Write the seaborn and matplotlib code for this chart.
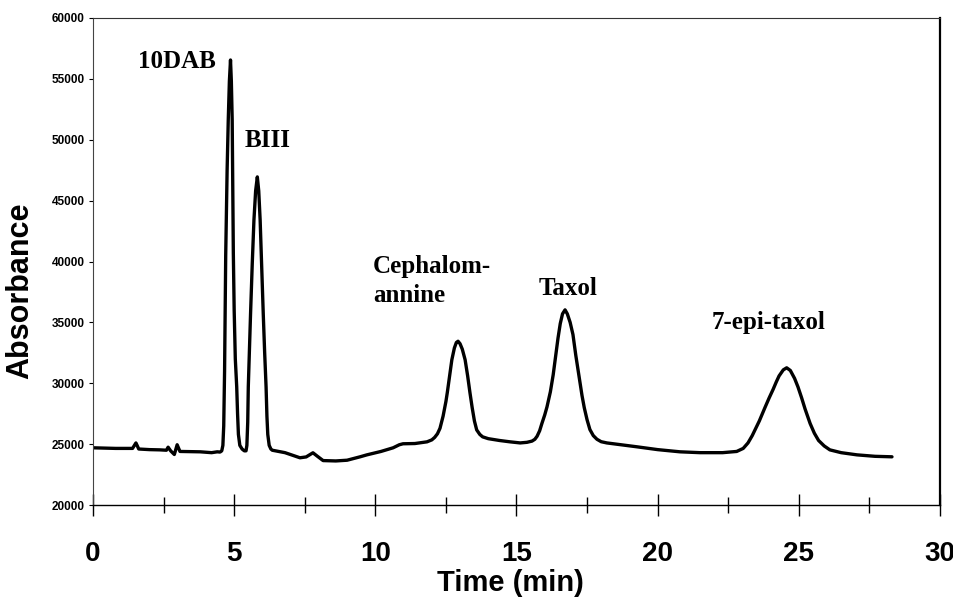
import matplotlib
matplotlib.use("Agg")
import matplotlib.pyplot as plt
import seaborn as sns
import pandas as pd
from matplotlib.ticker import MultipleLocator

# ---- data ----
time_min = [
    0.0, 0.8, 1.4, 1.52, 1.62, 2.0, 2.37, 2.6, 2.66, 2.75, 2.88, 2.98, 3.08,
    3.5, 3.8, 4.2, 4.4, 4.5, 4.56, 4.60, 4.63, 4.66, 4.70, 4.75, 4.79, 4.83,
    4.87, 4.90, 4.93, 4.95, 4.97, 5.00, 5.04, 5.09, 5.12, 5.15, 5.20, 5.28,
    5.36, 5.42, 5.45, 5.48, 5.50, 5.54, 5.58, 5.64, 5.70, 5.76, 5.82, 5.87,
    5.92, 5.97, 6.03, 6.08, 6.13, 6.16, 6.19, 6.24, 6.30, 6.35, 6.8, 7.33,
    7.55, 7.79, 7.95, 8.15, 8.6, 9.0, 9.46, 9.7, 10.2, 10.63, 10.85, 10.98,
    11.4, 11.83, 12.0, 12.1, 12.2, 12.29, 12.4, 12.5, 12.55, 12.63, 12.71,
    12.8, 12.87, 12.93, 13.0, 13.08, 13.18, 13.27, 13.35, 13.43, 13.51, 13.59,
    13.7, 13.8, 14.0, 14.4, 14.77, 15.13, 15.37, 15.55, 15.65, 15.73, 15.82,
    15.9, 16.0, 16.08, 16.2, 16.3, 16.4, 16.47, 16.55, 16.63, 16.72, 16.8,
    16.9, 17.0, 17.1, 17.22, 17.32, 17.4, 17.5, 17.6, 17.72, 17.85, 18.0,
    18.2, 18.7, 19.27, 20.0, 20.79, 21.5, 22.3, 22.8, 23.03, 23.2, 23.35,
    23.45, 23.6, 23.8, 23.95, 24.09, 24.2, 24.3, 24.45, 24.57, 24.7, 24.85,
    24.97, 25.1, 25.22, 25.4, 25.55, 25.7, 25.9, 26.1, 26.5, 27.06, 27.7,
    28.3,
]
absorbance = [
    24700, 24650, 24650, 25100, 24600, 24550, 24530, 24500, 24750, 24450,
    24150, 24950, 24400, 24380, 24370, 24300, 24370, 24350, 24450, 24900,
    26500, 31000, 40500, 47500, 51600, 54800, 56550, 54800, 51600, 46000,
    40700, 36000, 32000, 29700, 27500, 25800, 24900, 24600, 24450, 24450,
    24900, 26800, 29700, 32800, 35700, 39800, 43400, 45800, 46950, 45800,
    43400, 39800, 35700, 32500, 29700, 27300, 25800, 24900, 24600, 24500,
    24300, 23880, 23950, 24290, 24000, 23650, 23620, 23680, 23960, 24120,
    24400, 24700, 24950, 25030, 25050, 25190, 25350, 25550, 25850, 26300,
    27300, 28500, 29250, 30600, 31930, 32900, 33350, 33450, 33250, 32800,
    31930, 30600, 29250, 28000, 26900, 26170, 25800, 25600, 25450, 25300,
    25190, 25100, 25150, 25250, 25400, 25650, 26100, 26700, 27400, 28060,
    29300, 30700, 32500, 33700, 34900, 35700, 36030, 35700, 35000, 34000,
    32300, 30500, 29000, 28000, 27000, 26200, 25700, 25400, 25200, 25100,
    24950, 24780, 24550, 24370, 24300, 24300, 24400, 24650, 25100, 25700,
    26180, 26900, 28000, 28800, 29500, 30100, 30600, 31100, 31270, 31050,
    30400, 29700, 28800, 27900, 26700, 25900, 25300, 24850, 24530, 24300,
    24120, 24000, 23960,
]

peak_labels = ["10DAB", "BIII", "Cephalom-", "annine", "Taxol", "7-epi-taxol"]
label_time = [1.59, 5.38, 9.92, 9.92, 15.8, 21.9]
label_abs = [55900, 49400, 39060, 36680, 37260, 34470]

x_ticks = [0, 5, 10, 15, 20, 25, 30]
y_ticks = [20000, 25000, 30000, 35000, 40000, 45000, 50000, 55000, 60000]

df = pd.DataFrame({"Time (min)": time_min, "Absorbance": absorbance})

sns.set_style("white")
plt.rcParams["font.family"] = ["Liberation Sans", "DejaVu Sans"]
plt.rcParams["text.color"] = "black"
plt.rcParams["axes.labelcolor"] = "black"
plt.rcParams["xtick.color"] = "black"
plt.rcParams["ytick.color"] = "black"

fig = plt.figure(figsize=(9.54, 6.0), dpi=100)
ax = fig.add_axes([0.0975, 0.1583, 0.8878, 0.8117])

sns.lineplot(data=df, x="Time (min)", y="Absorbance", ax=ax,
             color="black", linewidth=2.4, sort=False, estimator=None)

ax.set_xlim(0, 30)
ax.set_ylim(20000, 60000)
ax.set_xticks(x_ticks)
ax.set_xticklabels([str(v) for v in x_ticks], fontsize=20, fontweight="bold",
                   color="black")
ax.xaxis.set_minor_locator(MultipleLocator(2.5))
ax.set_yticks(y_ticks)
ax.set_yticklabels([str(v) for v in y_ticks], fontsize=8.5, fontweight="bold",
                   color="black")

ax.tick_params(axis="x", which="major", direction="inout", length=16,
               width=1.0, pad=18, colors="black", bottom=True)
ax.tick_params(axis="x", which="minor", direction="inout", length=12,
               width=1.0, colors="black", bottom=True)
ax.tick_params(axis="y", which="major", direction="out", length=3,
               width=0.8, pad=3, colors="black", left=True)

for side, lw, col in [("left", 0.8, "#444444"), ("top", 0.8, "#333333"),
                      ("right", 1.6, "black"), ("bottom", 1.0, "black")]:
    ax.spines[side].set_visible(True)
    ax.spines[side].set_linewidth(lw)
    ax.spines[side].set_color(col)

ax.set_xlabel("Time (min)", fontsize=21, fontweight="bold", color="black")
ax.xaxis.set_label_coords(0.493, -0.132)
ax.set_ylabel("Absorbance", fontsize=22, fontweight="bold", color="black")
ax.yaxis.set_label_coords(-0.068, 0.44)

for txt, tx, ty in zip(peak_labels, label_time, label_abs):
    ax.text(tx, ty, txt, fontsize=18, fontweight="bold",
            family=["Liberation Serif", "DejaVu Serif"],
            ha="left", va="baseline", color="black")

fig.savefig("out.png", dpi=100)
